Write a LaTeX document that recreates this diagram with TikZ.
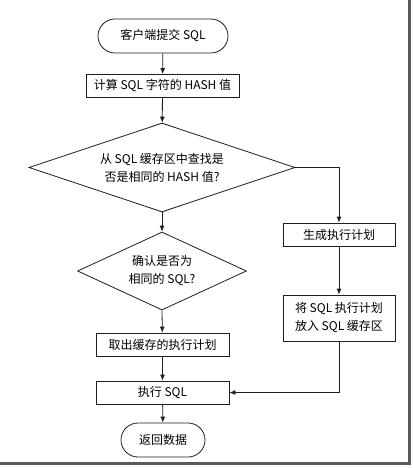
\documentclass[tikz,border=0pt]{standalone}
\usepackage{fontspec}
\newfontfamily\cjk{Noto Sans CJK SC}
\usetikzlibrary{arrows.meta,shapes.geometric,shapes.misc}
\definecolor{Ink}{HTML}{1E1E1E}
\definecolor{Shade}{HTML}{5A5A5A}
\tikzset{
  >={Latex[length=6pt,width=5pt]},
  base/.style={draw=Ink,line width=.8pt,fill=white,font=\cjk\fontsize{12}{18}\selectfont,align=center,inner sep=1pt},
  term/.style={base,rounded rectangle,minimum height=34pt},
  stepbox/.style={base,rectangle,minimum height=23pt},
  decide/.style={base,diamond,inner sep=0pt},
  flow/.style={->,line width=.8pt,draw=Ink}
}
\begin{document}
\begin{tikzpicture}[x=1pt,y=1pt]
  \useasboundingbox (0,0) rectangle (412,-468);
  % screenshot shadow
  \draw[Shade,line width=2.5pt] (409.5,0) -- (409.5,-463.5) -- (0,-463.5);

  \node[term,minimum width=132pt] (start) at (163,-36) {客户端提交 SQL};
  \node[stepbox,minimum width=153pt] (hash) at (162.5,-86) {计算 SQL 字符的 HASH 值};
  \node[decide,aspect=3,minimum width=266pt,minimum height=89pt] (lookup) at (162,-167.5)
    {从 SQL 缓存区中查找是\\否是相同的 HASH 值?};
  \node[decide,aspect=2.2,minimum width=169pt,minimum height=78pt] (confirm) at (162,-271)
    {确认是否为\\相同的 SQL?};
  \node[stepbox,minimum width=133pt] (fetch) at (162.5,-344.5) {取出缓存的执行计划};
  \node[stepbox,minimum width=133pt] (exec) at (162.5,-392.5) {执行 SQL};
  \node[term,minimum width=86pt] (ret) at (163,-440) {返回数据};
  \node[stepbox,minimum width=112pt] (gen) at (339,-234.5) {生成执行计划};
  \node[stepbox,minimum width=112pt,minimum height=46pt] (store) at (339,-318)
    {将 SQL 执行计划\\放入 SQL 缓存区};

  \draw[flow] (start) -- (hash);
  \draw[flow] (hash) -- (lookup);
  \draw[flow] (lookup.south) -- (confirm.north);
  \draw[flow] (confirm.south) -- (fetch);
  \draw[flow] (fetch) -- (exec);
  \draw[flow] (exec) -- (ret);
  \draw[flow] (lookup.east) -| (gen);
  \draw[flow] (gen) -- (store);
  \draw[flow] (store.south) |- (exec.east);
\end{tikzpicture}
\end{document}
